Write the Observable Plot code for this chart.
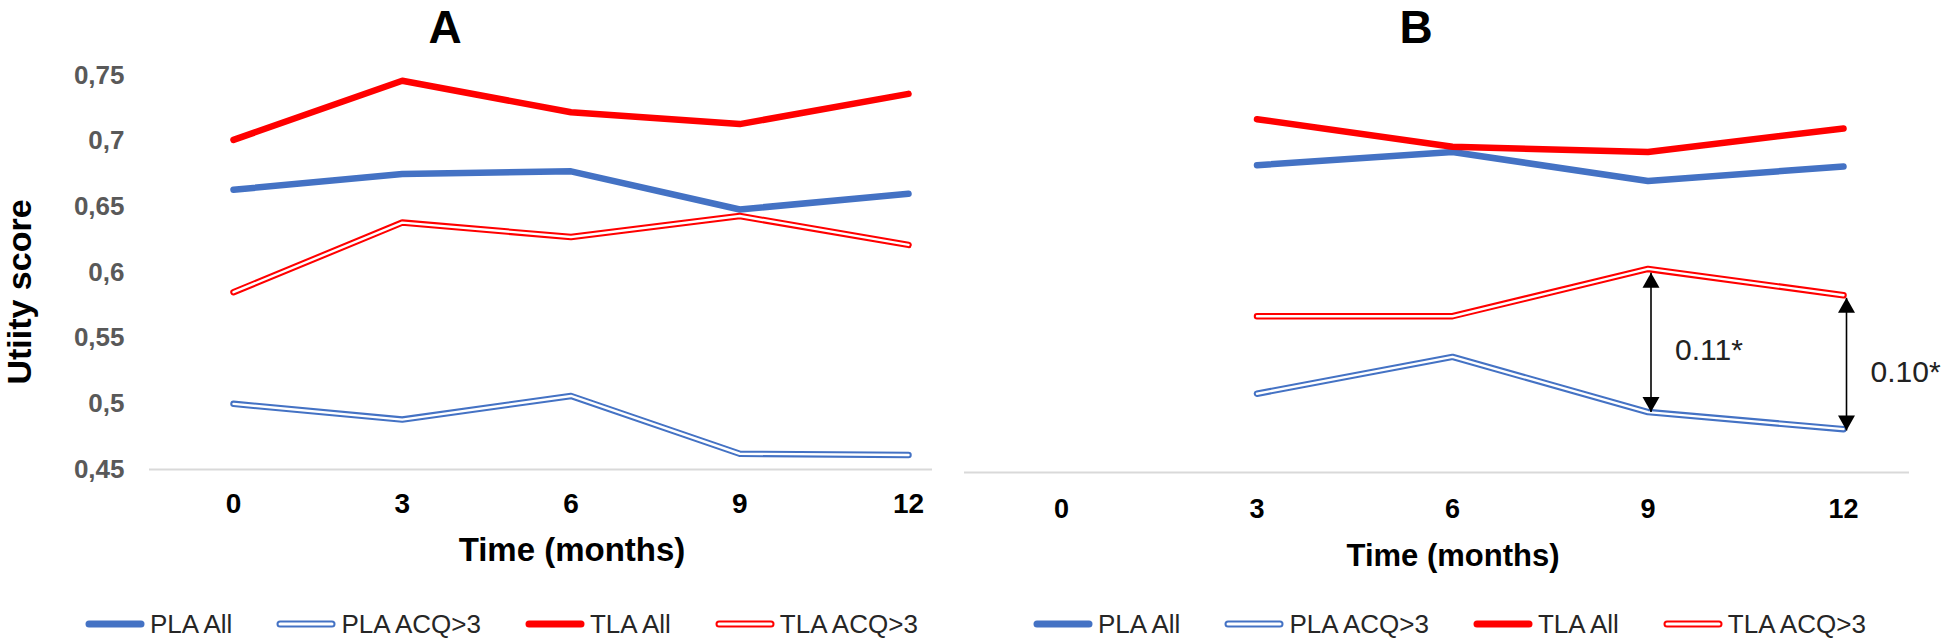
<!DOCTYPE html>
<html>
<head>
<meta charset="utf-8">
<script src="https://cdn.jsdelivr.net/npm/d3@7"></script>
<script src="https://cdn.jsdelivr.net/npm/@observablehq/plot@0.6"></script>
<style>
  body { margin: 0; background: #fff; }
  #root { position: relative; width: 1944px; height: 641px; overflow: hidden;
          font-family: "Liberation Sans", Arial, sans-serif; }
  .lbl { position: absolute; white-space: nowrap; line-height: 1; transform: translate(-50%, -50%); }
  .legend { position: absolute; display: flex; align-items: center; gap: 44px;
            transform: translateY(-50%); font-size: 26px; color: #262626; line-height: 1; white-space: nowrap; }
  .item { display: flex; align-items: center; gap: 5px; }
  .plot { position: absolute; top: 0; }
</style>
</head>
<body>
<div id="root"></div>
<script>
// ---------- data ----------
const monthsA = [0, 3, 6, 9, 12];
const monthsB = [3, 6, 9, 12];
const xTicks = [0, 3, 6, 9, 12];
const yTicks = [0.45, 0.5, 0.55, 0.6, 0.65, 0.7, 0.75];
const yTickLabels = ["0,45", "0,5", "0,55", "0,6", "0,65", "0,7", "0,75"];

const seriesNames = ["PLA All", "PLA ACQ>3", "TLA All", "TLA ACQ>3"];
const seriesColors = ["#4472C4", "#4472C4", "#FF0000", "#FF0000"];
const seriesDouble = [false, true, false, true];

// Panel A
const A_PLA_All = [0.663, 0.675, 0.677, 0.648, 0.660];
const A_PLA_ACQ = [0.500, 0.488, 0.506, 0.462, 0.461];
const A_TLA_All = [0.701, 0.746, 0.722, 0.713, 0.736];
const A_TLA_ACQ = [0.585, 0.638, 0.627, 0.643, 0.621];
// Panel B
const B_PLA_All = [0.684, 0.694, 0.672, 0.683];
const B_PLA_ACQ = [0.510, 0.538, 0.496, 0.483];
const B_TLA_All = [0.719, 0.698, 0.694, 0.712];
const B_TLA_ACQ = [0.569, 0.569, 0.605, 0.585];

// Panel B annotations (difference arrows)
const annMonths = [9, 12];
const annTop = [0.602, 0.583];
const annBottom = [0.496, 0.482];
const annLabels = ["0.11*", "0.10*"];

const panelTitles = ["A", "B"];
const yTitle = "Utiity score";
const xTitle = "Time (months)";

// ---------- helpers ----------
function rows(months, values) {
  return months.map((m, i) => ({month: m, value: values[i]}));
}
function seriesMarks(months, valueSets) {
  const marks = [];
  valueSets.forEach((vals, k) => {
    const data = rows(months, vals);
    marks.push(Plot.line(data, {x: "month", y: "value", stroke: seriesColors[k], strokeWidth: 6.5, strokeLinecap: "round", strokeLinejoin: "round"}));
    if (seriesDouble[k]) {
      marks.push(Plot.line(data, {x: "month", y: "value", stroke: "#ffffff", strokeWidth: 2.4, strokeLinecap: "round", strokeLinejoin: "round"}));
    }
  });
  return marks;
}
const font = "Liberation Sans, Arial, sans-serif";

// ---------- Panel A ----------
const plotA = Plot.plot({
  width: 950, height: 530,
  marginLeft: 149, marginRight: 18, marginTop: 75, marginBottom: 61,
  style: {fontFamily: font, background: "transparent", overflow: "visible"},
  x: {domain: [0, 12], range: [233, 908]},
  y: {domain: [0.45, 0.75]},
  marks: [
    Plot.ruleY([0.45], {stroke: "#d9d9d9", strokeWidth: 2}),
    Plot.axisY(yTicks, {tickSize: 0, tickPadding: 25, label: null, fontSize: 26, fontWeight: "bold", color: "#595959",
      tickFormat: d => yTickLabels[yTicks.indexOf(d)]}),
    Plot.axisX(xTicks, {tickSize: 0, tickPadding: 24, label: null, fontSize: 28, fontWeight: "bold", color: "#000"}),
    ...seriesMarks(monthsA, [A_PLA_All, A_PLA_ACQ, A_TLA_All, A_TLA_ACQ])
  ]
});

// ---------- Panel B ----------
const ann = annMonths.map((m, i) => ({month: m, top: annTop[i], bottom: annBottom[i], label: annLabels[i]}));
const triUp = {draw(ctx) { ctx.moveTo(0, 0); ctx.lineTo(-8.5, 15); ctx.lineTo(8.5, 15); ctx.closePath(); }};
const triDown = {draw(ctx) { ctx.moveTo(0, 0); ctx.lineTo(-8.5, -15); ctx.lineTo(8.5, -15); ctx.closePath(); }};

const plotB = Plot.plot({
  width: 994, height: 530,
  marginLeft: 14, marginRight: 35, marginTop: 78, marginBottom: 58,
  style: {fontFamily: font, background: "transparent", overflow: "visible"},
  x: {domain: [0, 12], range: [111, 893]},
  y: {domain: [0.45, 0.75], axis: null},
  marks: [
    Plot.ruleY([0.45], {stroke: "#d9d9d9", strokeWidth: 2}),
    Plot.axisX(xTicks, {tickSize: 0, tickPadding: 26, label: null, fontSize: 27, fontWeight: "bold", color: "#000"}),
    ...seriesMarks(monthsB, [B_PLA_All, B_PLA_ACQ, B_TLA_All, B_TLA_ACQ]),
    Plot.link(ann, {x1: "month", x2: "month", y1: "top", y2: "bottom", stroke: "#000", strokeWidth: 1.6, dx: 3}),
    Plot.dot(ann, {x: "month", y: "top", symbol: triUp, r: 6, fill: "#000", stroke: null, dx: 3}),
    Plot.dot(ann, {x: "month", y: "bottom", symbol: triDown, r: 6, fill: "#000", stroke: null, dx: 3}),
    Plot.text(ann, {x: "month", y: d => (d.top + d.bottom) / 2, text: "label", textAnchor: "start", dx: 27, dy: 8,
      fontSize: 30, fill: "#222"})
  ]
});

// ---------- layout ----------
const root = document.getElementById("root");
plotA.classList.add("plot"); plotA.style.left = "0px";
plotB.classList.add("plot"); plotB.style.left = "950px";
root.appendChild(plotA);
root.appendChild(plotB);

function label(text, x, y, size, extra = "") {
  const d = document.createElement("div");
  d.className = "lbl";
  d.textContent = text;
  d.style.cssText += `left:${x}px;top:${y}px;font-size:${size}px;font-weight:bold;color:#000;${extra}`;
  root.appendChild(d);
  return d;
}
label(panelTitles[0], 445, 27, 46, "line-height:0.8;");
label(panelTitles[1], 1416, 27, 46, "line-height:0.8;");
label(yTitle, 19, 292, 34, "transform:translate(-50%,-50%) rotate(-90deg);");
label(xTitle, 572, 549, 33);
label(xTitle, 1453, 555, 31);

function legend(x, y) {
  const lg = document.createElement("div");
  lg.className = "legend";
  lg.style.left = x + "px";
  lg.style.top = y + "px";
  seriesNames.forEach((name, k) => {
    const it = document.createElement("div");
    it.className = "item";
    const c = seriesColors[k];
    const inner = seriesDouble[k]
      ? `<line x1="4" y1="6" x2="56" y2="6" stroke="${c}" stroke-width="7" stroke-linecap="round"/><line x1="4" y1="6" x2="56" y2="6" stroke="#fff" stroke-width="3" stroke-linecap="round"/>`
      : `<line x1="4" y1="6" x2="56" y2="6" stroke="${c}" stroke-width="7" stroke-linecap="round"/>`;
    it.innerHTML = `<svg width="60" height="12">${inner}</svg><span>${name.replace(">", "&gt;")}</span>`;
    lg.appendChild(it);
  });
  root.appendChild(lg);
}
legend(85, 624);
legend(1033, 624);
</script>
</body>
</html>
